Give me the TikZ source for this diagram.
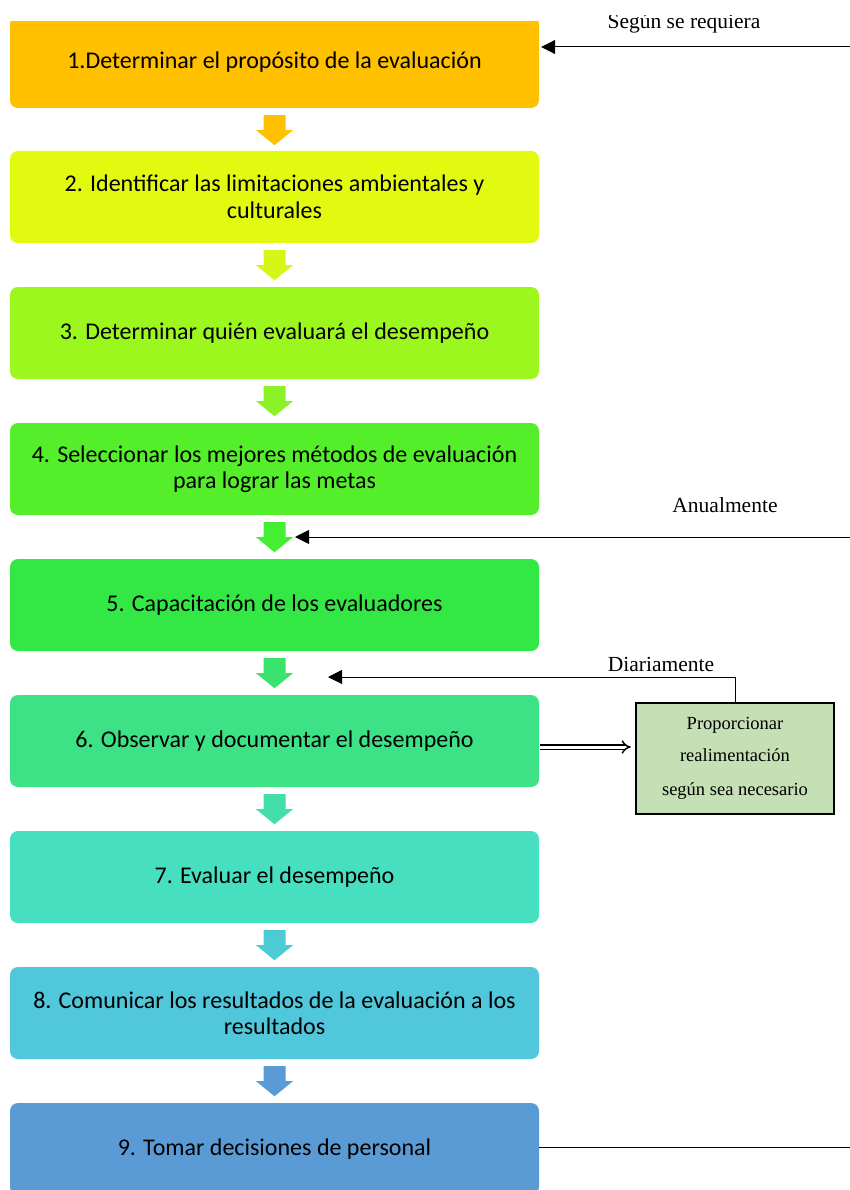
\documentclass[tikz,border=0pt]{standalone}
\usepackage{fontspec}
\setmainfont{Carlito}
\newfontfamily\serifface{Liberation Serif}
\usetikzlibrary{arrows.meta,calc}

\definecolor{c1}{HTML}{FFC000}
\definecolor{c2}{HTML}{E1FA10}
\definecolor{c3}{HTML}{9BF71E}
\definecolor{c4}{HTML}{54EE2B}
\definecolor{c5}{HTML}{33E845}
\definecolor{c6}{HTML}{3DE287}
\definecolor{c7}{HTML}{46DFC0}
\definecolor{c8}{HTML}{50C7DA}
\definecolor{c9}{HTML}{5B9BD5}
\definecolor{a1}{HTML}{FFC000}
\definecolor{a2}{HTML}{D6F716}
\definecolor{a3}{HTML}{8CF228}
\definecolor{a4}{HTML}{45ED33}
\definecolor{a5}{HTML}{3AE46C}
\definecolor{a6}{HTML}{44DFA9}
\definecolor{a7}{HTML}{4DCBD5}
\definecolor{a8}{HTML}{5B9BD5}
\definecolor{fbfill}{HTML}{C5E0B4}

\tikzset{
  stepbox/.style={rectangle, rounded corners=8pt, draw=none, minimum width=529pt,
    minimum height=92pt, align=center, font=\fontsize{24}{26.5}\selectfont, inner sep=0pt},
  feedbox/.style={rectangle, draw=black, line width=2.5pt, fill=fbfill, minimum width=198pt,
    minimum height=111pt, align=center, font=\serifface\fontsize{18.5}{34}\selectfont},
  sidelabel/.style={font=\serifface\fontsize{21.5}{24}\selectfont, inner sep=0pt},
  sidearrow/.style={line width=1pt, -{Triangle[length=14pt,width=14pt]}},
}

% block arrow pointing down, hanging below a node
\newcommand{\downarrowfrom}[2]{%
  \fill[#2] ($(#1.south)+(-11,7)$) -- ++(22,0) -- ++(0,15) -- ++(7.5,0)
    -- ++(-18.5,15) -- ++(-18.5,-15) -- ++(7.5,0) -- cycle;}

\begin{document}
\begin{tikzpicture}[x=1pt,y=-1pt]
\useasboundingbox (0,0) rectangle (850,1190);
\clip (0,0) rectangle (850,1190);

% first step, its top edge trimmed flat
\begin{scope}
  \clip (0,22) rectangle (850,1190);
  \node[stepbox, fill=c1] (b1) at (274.5,62) {1.Determinar el propósito de la evaluación};
\end{scope}
\node[stepbox, fill=c2] (b2) at (274.5,197)  {2. Identificar las limitaciones ambientales y\\culturales};
\node[stepbox, fill=c3] (b3) at (274.5,333)  {3. Determinar quién evaluará el desempeño};
\node[stepbox, fill=c4] (b4) at (274.5,469)  {4. Seleccionar los mejores métodos de evaluación\\para lograr las metas};
\node[stepbox, fill=c5] (b5) at (274.5,605)  {5. Capacitación de los evaluadores};
\node[stepbox, fill=c6] (b6) at (274.5,741)  {6. Observar y documentar el desempeño};
\node[stepbox, fill=c7] (b7) at (274.5,877)  {7. Evaluar el desempeño};
\node[stepbox, fill=c8] (b8) at (274.5,1013) {8. Comunicar los resultados de la evaluación a los\\resultados};
\node[stepbox, fill=c9] (b9) at (274.5,1149) {9. Tomar decisiones de personal};

\downarrowfrom{b1}{a1}
\downarrowfrom{b2}{a2}
\downarrowfrom{b3}{a3}
\downarrowfrom{b4}{a4}
\downarrowfrom{b5}{a5}
\downarrowfrom{b6}{a6}
\downarrowfrom{b7}{a7}
\downarrowfrom{b8}{a8}

% feedback box beside step 6
\node[feedbox] (fb) at (735,758.5) {\raisebox{-1.5pt}{Proporcionar}\\realimentación\\según sea necesario};

% side inputs
\coordinate (in1) at (850,47);
\coordinate (in5) at (850,537);
\coordinate (tip5) at (295,537);
\coordinate (tip6) at (328,677);
\coordinate (out9) at (850,1147);

\draw[sidearrow] (in1) -- ($(b1.east |- in1)+(2,0)$);
\begin{scope}
  \clip (0,16) rectangle (850,1190);
  \node[sidelabel] (lab1) at (684,23) {Según se requiera};
\end{scope}

\draw[sidearrow] (in5) -- (tip5);
\node[sidelabel] (lab5) at (725,505) {Anualmente};

\draw[sidearrow] (fb.north) |- (tip6);
\node[sidelabel] (lab6) at (661,664) {Diariamente};

\draw[double, double distance=3pt, line width=1.5pt, -{Implies}]
  ($(b6.east |- fb.west)+(1,-11.5)$) -- ($(fb.west)+(-4,-11.5)$);

\draw[line width=1pt] (b9.east |- out9) -- (out9);
\end{tikzpicture}
\end{document}
